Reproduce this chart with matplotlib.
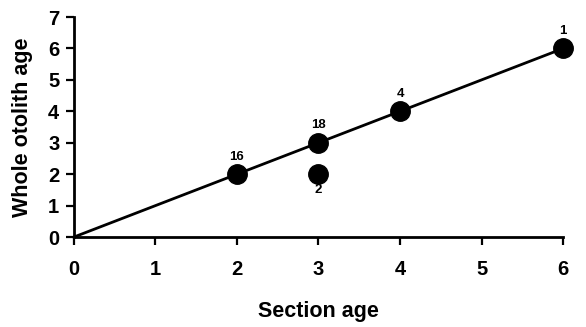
import matplotlib.pyplot as plt

# section age vs whole otolith age, with sample counts
section_age = [2, 3, 3, 4, 6]
whole_age = [2, 3, 2, 4, 6]
counts = ["16", "18", "2", "4", "1"]
below = [False, False, True, False, False]

plt.rcParams['font.family'] = ['Liberation Sans', 'DejaVu Sans']

fig = plt.figure(figsize=(5.86, 3.27), dpi=100)
ax = fig.add_axes([0.126, 0.275, 0.835, 0.673])

# 1:1 line
ax.plot([0, 6], [0, 6], color='black', linewidth=2.0, zorder=2, clip_on=False)
ax.plot(section_age, whole_age, 'o', color='black', markersize=14,
        zorder=3, clip_on=False)

for x, y, n, b in zip(section_age, whole_age, counts, below):
    if b:
        ax.text(x, y - 0.3, n, ha='center', va='top', fontsize=9.5, fontweight='bold')
    else:
        ax.text(x, y + 0.37, n, ha='center', va='bottom', fontsize=9.5, fontweight='bold')

ax.set_xlim(0, 6)
ax.set_ylim(0, 7)
ax.set_xticks(range(0, 7))
ax.set_yticks(range(0, 8))
ax.spines['top'].set_visible(False)
ax.spines['right'].set_visible(False)
ax.spines['left'].set_linewidth(2.0)
ax.spines['bottom'].set_linewidth(2.0)
ax.tick_params(direction='out', length=5.5, width=1.6, labelsize=14.5)
ax.tick_params(axis='x', pad=11)
ax.tick_params(axis='y', pad=5)
for lab in ax.get_xticklabels() + ax.get_yticklabels():
    lab.set_fontweight('bold')

ax.set_xlabel('Section age', fontsize=15.5, fontweight='bold', labelpad=16)
ax.set_ylabel('Whole otolith age', fontsize=15.5, fontweight='bold', labelpad=11)

fig.savefig('out.png', dpi=100)
